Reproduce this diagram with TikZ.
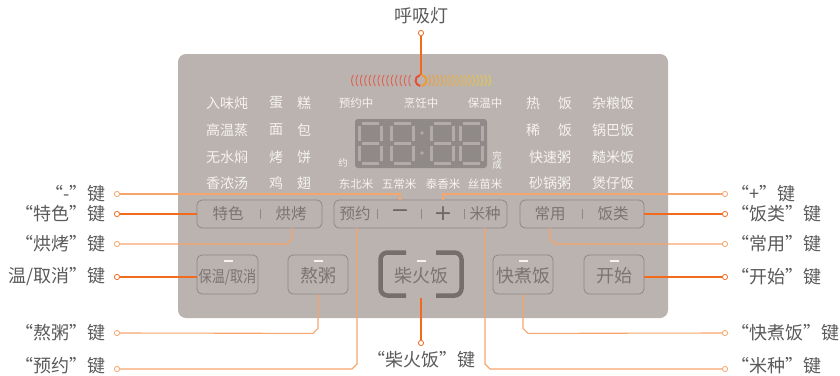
\documentclass[tikz,border=0pt]{standalone}
\usepackage{fontspec}
\setmainfont{Noto Sans CJK SC}
\newfontfamily\symfont{DejaVu Sans}
\definecolor{panel}{HTML}{BAB3B0}
\definecolor{disp}{HTML}{8F8987}
\definecolor{seg}{HTML}{B3ABA9}
\definecolor{btnline}{HTML}{8E8886}
\definecolor{btntext}{HTML}{7A7472}
\definecolor{symtext}{HTML}{6E6866}
\definecolor{labtext}{HTML}{5A5A5A}
\definecolor{odark}{HTML}{F26B1D}
\definecolor{olight}{HTML}{F6A56B}
\definecolor{arcred}{HTML}{E2604E}
\definecolor{arcring}{HTML}{E5502E}
\definecolor{arcor}{HTML}{F09A30}
\definecolor{arcyel}{HTML}{E8CF45}
\definecolor{ptext}{HTML}{F6F3F1}
\newcommand\sevseg[2]{%
 \draw[segs] (#1+4,#2+1.5) -- (#1+21,#2+1.5);
 \draw[segs] (#1+4,#2+21.5) -- (#1+21,#2+21.5);
 \draw[segs] (#1+4,#2+41.5) -- (#1+21,#2+41.5);
 \draw[segs] (#1+1.5,#2+4) -- (#1+1.5,#2+19);
 \draw[segs] (#1+23.5,#2+4) -- (#1+23.5,#2+19);
 \draw[segs] (#1+1.5,#2+24) -- (#1+1.5,#2+39);
 \draw[segs] (#1+23.5,#2+24) -- (#1+23.5,#2+39);
}
\tikzset{
 ptxt/.style={text=ptext, font=\fontsize{14}{16}\selectfont, inner sep=0pt},
 psmall/.style={text=ptext, font=\fontsize{11.5}{13}\selectfont, inner sep=0pt},
 btn/.style={draw=btnline, line width=0.8pt, rounded corners=5pt, inner sep=0pt},
 btxt/.style={text=btntext, font=\fontsize{15.5}{17}\selectfont, inner sep=0pt},
 bbig/.style={text=btntext, font=\fontsize{18}{20}\selectfont, inner sep=0pt},
 bsym/.style={text=symtext, font=\symfont\fontsize{22}{24}\selectfont, inner sep=0pt},
 lab/.style={text=labtext, font=\fontsize{18}{20}\selectfont, inner sep=0pt},
 dotc/.style={circle, draw=#1, fill=white, line width=0.8pt, minimum size=5.2pt, inner sep=0pt},
 cdark/.style={draw=odark, line width=1.1pt},
 clight/.style={draw=olight, line width=1.1pt},
 segs/.style={draw=seg, line width=3pt},
 sepl/.style={draw=btnline, line width=0.8pt},
 ind/.style={fill=ptext, draw=none, minimum width=9pt, minimum height=2.6pt, inner sep=0pt},
}
\begin{document}
\begin{tikzpicture}[x=1pt,y=-1pt]
\useasboundingbox (0,0) rectangle (840,375);
% panel
\fill[panel, rounded corners=8pt] (178,54) rectangle (668,318);

% breathing light
\foreach \i in {0,...,13}{
  \pgfmathsetmacro\xx{352+\i*4.4}
  \draw[arcred, line width=0.9pt] (\xx+1.3,75) .. controls (\xx-1,78.5) and (\xx-1,83) .. (\xx+1.3,86);
}
\foreach \i in {0,...,15}{
  \pgfmathsetmacro\xx{430+\i*4}
  \pgfmathtruncatemacro\pp{100-\i*6.5}
  \draw[color=arcor!\pp!arcyel, line width=0.9pt] (\xx-1.3,75) .. controls (\xx+1,78.5) and (\xx+1,83) .. (\xx-1.3,86);
}
\coordinate (ring) at (421,80.5);
\draw[arcring, line width=2pt] (ring) ++(100:5.5pt) arc[start angle=100, end angle=262, radius=5.5pt];
\draw[arcor, line width=2pt] (ring) ++(-82:5.5pt) arc[start angle=-82, end angle=78, radius=5.5pt];
\coordinate (ringtop) at (421,75);

% left program texts
\node[ptxt] (l11) at (227,103) {入味炖};
\node[ptxt] (l12) at (276,103) {蛋};
\node[ptxt] (l13) at (304,103) {糕};
\node[ptxt] (l21) at (227,130) {高温蒸};
\node[ptxt] (l22) at (276,130) {面};
\node[ptxt] (l23) at (304,130) {包};
\node[ptxt] (l31) at (227,157) {无水焖};
\node[ptxt] (l32) at (276,157) {烤};
\node[ptxt] (l33) at (304,157) {饼};
\node[ptxt] (l41) at (227,183) {香浓汤};
\node[ptxt] (l42) at (276,183) {鸡};
\node[ptxt] (l43) at (304,183) {翅};

% right program texts
\node[ptxt] (r11) at (533,103) {热};
\node[ptxt] (r12) at (565,103) {饭};
\node[ptxt] (r13) at (613,103) {杂粮饭};
\node[ptxt] (r21) at (533,130) {稀};
\node[ptxt] (r22) at (565,130) {饭};
\node[ptxt] (r23) at (613,130) {锅巴饭};
\node[ptxt] (r31) at (550,157) {快速粥};
\node[ptxt] (r33) at (613,157) {糙米饭};
\node[ptxt] (r41) at (550,183) {砂锅粥};
\node[ptxt] (r43) at (613,183) {煲仔饭};

% status texts
\node[psmall] (s1) at (356,103) {预约中};
\node[psmall] (s2) at (421,103) {烹饪中};
\node[psmall] (s3) at (485,103) {保温中};
\node[psmall] (m1) at (356,184) {东北米};
\node[psmall] (m2) at (399,184) {五常米};
\node[psmall] (m3) at (443,184) {泰香米};
\node[psmall] (m4) at (485,184) {丝苗米};
\node[text=ptext, font=\fontsize{9.5}{10}\selectfont, inner sep=0pt] (yue) at (343,163) {约};
\node[text=ptext, font=\fontsize{9.5}{10}\selectfont, inner sep=0pt, align=center] (wc) at (497,160) {完\\[-1pt]成};

% display
\fill[disp, rounded corners=3pt] (355,119) rectangle (487,168);
\sevseg{358}{122}
\sevseg{390}{122}
\sevseg{430}{122}
\sevseg{459}{122}
\fill[seg] (422,133) circle[radius=1.9pt];
\fill[seg] (422,153) circle[radius=1.9pt];

% top row buttons
\node[btn, minimum width=125pt, minimum height=28pt] (bA) at (259.5,214) {};
\node[btxt] (tTese) at (228,214) {特色};
\node[btxt] (tHong) at (291,214) {烘烤};
\draw[sepl] (260,209) -- (260,219);

\node[btn, minimum width=173pt, minimum height=28pt] (bB) at (420.5,214) {};
\node[btxt] (tYuyue) at (355,214) {预约};
\node[bsym] (tMinus) at (400,214) {−};
\node[bsym] (tPlus) at (443,214) {+};
\node[btxt] (tMiz) at (485,214) {米种};
\draw[sepl] (377,209) -- (377,219);
\draw[sepl] (421,209) -- (421,219);
\draw[sepl] (464,209) -- (464,219);

\node[btn, minimum width=124pt, minimum height=28pt] (bC) at (582,214) {};
\node[btxt] (tChang) at (550,214) {常用};
\node[btxt] (tFanl) at (613,214) {饭类};
\draw[sepl] (582,209) -- (582,219);

% second row buttons
\node[btn, minimum width=61pt, minimum height=39pt] (b1) at (227.5,274.5) {};
\node[bbig, font=\fontsize{16}{18}\selectfont, xscale=0.82] (t1) at (227.5,277) {保温/取消};
\node[ind] (i1) at (228,261) {};

\node[btn, minimum width=60pt, minimum height=39pt] (b2) at (318,274.5) {};
\node[bbig] (t2) at (318,276) {熬粥};
\node[ind] (i2) at (318,261) {};

\node[minimum width=85pt, minimum height=48pt, inner sep=0pt] (b3) at (421,274) {};
\draw[draw=btntext!95!black, line width=4.5pt, rounded corners=7pt] (406,252.5) -- (380.5,252.5) -- (380.5,295.5) -- (406,295.5);
\draw[draw=btntext!95!black, line width=4.5pt, rounded corners=7pt] (436,252.5) -- (461.5,252.5) -- (461.5,295.5) -- (436,295.5);
\node[bbig] (t3) at (421,276) {柴火饭};
\node[ind] (i3) at (421,261) {};

\node[btn, minimum width=60pt, minimum height=39pt] (b4) at (523,274.5) {};
\node[bbig] (t4) at (523,276) {快煮饭};
\node[ind] (i4) at (523,261) {};

\node[btn, minimum width=60pt, minimum height=39pt] (b5) at (614,274.5) {};
\node[bbig] (t5) at (614,276) {开始};
\node[ind] (i5) at (614,261) {};

% connector dots
\node[dotc=olight] (cL1) at (117,194) {};
\node[dotc=odark] (cL2) at (117,214) {};
\node[dotc=olight] (cL3) at (117,244) {};
\node[dotc=odark] (cL4) at (117,277) {};
\node[dotc=olight] (cL5) at (117,333) {};
\node[dotc=olight] (cL6) at (117,369) {};
\node[dotc=olight] (cR1) at (725,194) {};
\node[dotc=odark] (cR2) at (725,214) {};
\node[dotc=olight] (cR3) at (725,244) {};
\node[dotc=odark] (cR4) at (725,277) {};
\node[dotc=olight] (cR5) at (725,333) {};
\node[dotc=olight] (cR6) at (725,369) {};
\node[dotc=odark] (cB) at (421,343) {};
\node[dotc=odark] (cT) at (421,33) {};

% labels
\node[lab, anchor=east] (L1) at (106,194) {“-”键};
\node[lab, anchor=east] (L2) at (106,214) {“特色”键};
\node[lab, anchor=east] (L3) at (106,244) {“烘烤”键};
\node[lab, anchor=east] (L4) at (106,277) {温/取消”键};
\node[lab, anchor=east] (L5) at (106,333) {“熬粥”键};
\node[lab, anchor=east] (L6) at (106,366) {“预约”键};
\node[lab, anchor=west] (R1) at (731,194) {“+”键};
\node[lab, anchor=west] (R2) at (731,214) {“饭类”键};
\node[lab, anchor=west] (R3) at (731,244) {“常用”键};
\node[lab, anchor=west] (R4) at (731,277) {“开始”键};
\node[lab, anchor=west] (R5) at (731,333) {“快煮饭”键};
\node[lab, anchor=west] (R6) at (731,366) {“米种”键};
\node[lab] (LB) at (421,360) {“柴火饭”键};
\node[lab] (LT) at (421,16) {呼吸灯};

% connector anchor points
\coordinate (pMinus) at (400,200);
\coordinate (pPlus) at (443,200);
\coordinate (pHong) at (292,228);
\coordinate (pYuyue) at (357,228);
\coordinate (pMiz) at (485,228);
\coordinate (pChang) at (550,228);

% connectors
\draw[cdark] (ringtop) -- (cT.south);
\draw[clight] (cL1.east) -| (pMinus);
\draw[cdark] (cL2.east) -- (bA.west);
\draw[clight] (pHong) -- ++(0,11) -- ++(-5,5) -- (cL3.east);
\draw[cdark] (cL4.east) -- (cL4.east -| b1.west);
\draw[clight] (b2.south) -- ++(0,34) -- ++(-5,5) -- (cL5.east);
\draw[clight] (pYuyue) -- ++(0,136) -- ++(-5,5) -- (cL6.east);
\draw[cdark] (b3.south) -- (cB.north);
\draw[clight] (pPlus) |- (cR1.west);
\draw[cdark] (bC.east) -- (cR2.west);
\draw[clight] (pChang) -- ++(0,11) -- ++(5,5) -- (cR3.west);
\draw[cdark] (cR4.west -| b5.east) -- (cR4.west);
\draw[clight] (b4.south) -- ++(0,34) -- ++(5,5) -- (cR5.west);
\draw[clight] (pMiz) -- ++(0,136) -- ++(5,5) -- (cR6.west);
\end{tikzpicture}
\end{document}
